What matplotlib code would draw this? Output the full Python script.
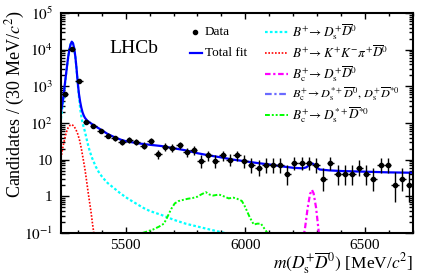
import matplotlib
matplotlib.use("Agg")
import matplotlib.pyplot as plt
import numpy as np
from matplotlib.lines import Line2D
from matplotlib.ticker import MultipleLocator, LogLocator, FuncFormatter, NullFormatter

plt.rcParams["font.family"] = ["Liberation Serif", "DejaVu Serif"]
plt.rcParams["mathtext.fontset"] = "stix"

W, H = 436, 278

# --- data: 30 MeV bins from 5230 to 6700 ---
bin_width = 30
mass = np.arange(5245, 6700, bin_width)
counts = np.array([
    600, 10400, 1400, 106, 83, 60, 45, 38, 31, 35,
    31, 24, 32, 14, 22, 21, 25, 16, 18, 9,
    13, 9, 13, 10, 13, 9, 7, 6, 7, 7,
    7, 4, 8, 8, 8, 7, 3, 8, 4, 4,
    4, 6, 4, 3, 7, 7, 2, 3, 2,
], dtype=float)

# total fit
fit_m = [5230, 5235, 5240, 5245, 5250, 5255, 5260, 5265, 5270, 5275,
         5280, 5285, 5290, 5295, 5300, 5305, 5310, 5315, 5320, 5325,
         5330, 5340, 5355, 5370, 5400, 5425, 5450, 5480, 5500, 5550,
         5600, 5650, 5700, 5750, 5800, 5850, 5900, 5950, 6000, 6050,
         6100, 6150, 6200, 6240, 6255, 6265, 6275, 6282, 6290, 6300,
         6310, 6350, 6400, 6500, 6600, 6700]
fit_v = [200, 310, 520, 1000, 1900, 3500, 6300, 10000, 14000, 16500,
         15000, 11000, 6400, 3000, 1250, 620, 380, 260, 195, 160,
         138, 115, 98, 84, 64, 50, 42, 35, 32, 28,
         25.5, 23.5, 20.5, 18, 15, 13, 11.5, 10, 9, 8.1,
         7.4, 6.6, 6.0, 5.8, 6.2, 7.0, 7.8, 7.8, 7.0, 6.0,
         5.4, 5.1, 4.9, 4.7, 4.5, 4.4]

# B+ -> Ds D0
sig_m = [5230, 5235, 5240, 5245, 5250, 5255, 5260, 5265, 5270, 5275,
         5280, 5285, 5290, 5295, 5300, 5305, 5310, 5315, 5320, 5330,
         5340, 5350, 5360, 5375, 5390, 5405, 5425, 5450, 5475, 5500,
         5525, 5550, 5575, 5600, 5650, 5700, 5750, 5800, 5850, 5900, 5930]
sig_v = [130, 230, 430, 900, 1800, 3400, 6100, 9800, 13800, 16300,
         14800, 10800, 6300, 2900, 1150, 520, 250, 150, 100, 58,
         30, 17, 11, 6.5, 4.3, 3.2, 2.3, 1.7, 1.25, 0.95,
         0.75, 0.6, 0.48, 0.40, 0.31, 0.23, 0.18, 0.15, 0.125, 0.105, 0.095]

# B+ -> K+ K- pi+ D0
kkp_m = [5230, 5238, 5245, 5252, 5260, 5268, 5276, 5284, 5292, 5300,
         5308, 5315, 5322, 5330, 5337, 5344, 5350, 5356, 5362, 5368]
kkp_v = [11, 22, 36, 55, 75, 87, 90, 82, 67, 50,
         33, 20, 11, 5.5, 2.6, 1.2, 0.65, 0.35, 0.17, 0.09]

# Bc+ -> Ds D0
bc_m = [6240, 6250, 6260, 6270, 6278, 6285, 6295, 6305, 6315]
bc_v = [0.06, 0.15, 0.48, 1.15, 1.5, 1.2, 0.5, 0.13, 0.03]

# Bc+ -> Ds* D*0
bcss_m = [5570, 5590, 5615, 5640, 5660, 5675, 5690, 5705, 5720, 5740,
          5760, 5780, 5800, 5815, 5835, 5850, 5865, 5890, 5910, 5930,
          5950, 5965, 5985, 5995, 6005, 6018, 6035, 6050, 6065, 6080, 6092]
bcss_v = [0.1, 0.11, 0.125, 0.15, 0.18, 0.28, 0.45, 0.64, 0.74, 0.8,
          0.86, 0.9, 0.98, 1.12, 1.3, 1.12, 1.05, 1.12, 1.0, 0.88,
          0.92, 0.86, 0.75, 0.58, 0.42, 0.27, 0.17, 0.18, 0.18, 0.13, 0.1]

# Poisson (Garwood-like) intervals
n = counts
lo = n * (1 - 1 / (9 * n) - 1 / (3 * np.sqrt(n))) ** 3
hi = (n + 1) * (1 - 1 / (9 * (n + 1)) + 1 / (3 * np.sqrt(n + 1))) ** 3

fig = plt.figure(figsize=(W / 100, H / 100), dpi=100)
ax = fig.add_axes([61 / W, 1 - 233 / H, 352 / W, 220 / H])

ax.plot(kkp_m, kkp_v, color="#ff0000", lw=1.2, ls=(0, (1, 1)))
ax.plot(sig_m, sig_v, color="#00ffff", lw=1.6, ls=(0, (1.2, 1)))
ax.plot(bcss_m, bcss_v, color="#00ff00", lw=1.4, ls=(0, (2.5, 1, 1, 1, 1, 1)))
ax.plot(bc_m, bc_v, color="#ff00ff", lw=1.6, ls=(0, (2.5, 1.2, 1, 1.2)))
ax.plot(fit_m, fit_v, color="#0000ff", lw=1.6)
ax.errorbar(mass, counts, xerr=bin_width / 2, yerr=[n - lo, hi - n],
            fmt="o", color="k", ms=3, elinewidth=1.0, capsize=0, zorder=5)

ax.set_yscale("log")
ax.set_xlim(5230, 6700)
ax.set_ylim(0.1, 1e5)

ax.xaxis.set_major_locator(MultipleLocator(500))
ax.xaxis.set_minor_locator(MultipleLocator(100))
ax.yaxis.set_major_locator(LogLocator(base=10, numticks=10))
ax.yaxis.set_minor_locator(LogLocator(base=10, subs=np.arange(2, 10), numticks=20))
ax.yaxis.set_minor_formatter(NullFormatter())


def yfmt(v, pos):
    e = int(round(np.log10(v)))
    if e == 0:
        return "1"
    if e == 1:
        return "10"
    return r"$10^{%d}$" % e


ax.yaxis.set_major_formatter(FuncFormatter(yfmt))
ax.tick_params(axis="both", which="both", direction="in", top=True, right=True,
               labelsize=11, width=1.0)
ax.tick_params(axis="x", which="major", length=4.3, pad=4)
ax.tick_params(axis="x", which="minor", length=2.2)
ax.tick_params(axis="y", which="major", length=5.8, pad=6)
ax.tick_params(axis="y", which="minor", length=2.9)
for s in ax.spines.values():
    s.set_linewidth(1.5)

fig.text(15 / W, 1 - 10 / H, r"Candidates / (30 MeV/$c^2$)", rotation=90,
         ha="center", va="top", fontsize=13)
fig.text(413 / W, 1 - 263 / H, r"$m(D_{\mathrm{s}}^{+}\overline{D}^{0})$ [MeV/$c^2$]",
         ha="right", va="center", fontsize=12.5)
fig.text(109 / W, 1 - 48.5 / H, "LHCb", ha="left", va="center", fontsize=14)

# legend, drawn by hand
leg_fs = 9.5
fig.add_artist(Line2D([195 / W], [1 - 32 / H], marker="o", ms=3, color="k",
                      transform=fig.transFigure))
fig.text(205 / W, 1 - 32 / H, "Data", ha="left", va="center", fontsize=leg_fs)
fig.add_artist(Line2D([190 / W, 202 / W], [1 - 53 / H] * 2, color="#0000ff", lw=1.6,
                      transform=fig.transFigure))
fig.text(205 / W, 1 - 53 / H, "Total fit", ha="left", va="center", fontsize=leg_fs)

entries = [
    (r"$B^{+}\!\to D_{\mathrm{s}}^{+}\overline{D}^{0}$", "#00ffff", (0, (1.2, 1)), 1.6, leg_fs),
    (r"$B^{+}\!\to K^{+}K^{-}\pi^{+}\overline{D}^{0}$", "#ff0000", (0, (1, 1)), 1.2, leg_fs),
    (r"$B_{\mathrm{c}}^{+}\!\to D_{\mathrm{s}}^{+}\overline{D}^{0}$", "#ff00ff", (0, (2.5, 1.2, 1, 1.2)), 1.6, leg_fs),
    (r"$B_{\mathrm{c}}^{+}\!\to D_{\mathrm{s}}^{*+}\overline{D}^{0},\,D_{\mathrm{s}}^{+}\overline{D}^{*0}$",
     "#6a6aff", (0, (3, 1.2, 1, 1.2)), 1.6, 8.8),
    (r"$B_{\mathrm{c}}^{+}\!\to D_{\mathrm{s}}^{*+}\overline{D}^{*0}$", "#00ff00", (0, (2.5, 1, 1, 1, 1, 1)), 1.4, leg_fs),
]
for i, (lab, col, ls, lw, fs) in enumerate(entries):
    y = 1 - (32.5 + 20.6 * i) / H
    fig.add_artist(Line2D([265 / W, 288 / W], [y, y], color=col, lw=lw, ls=ls,
                          transform=fig.transFigure))
    fig.text(292 / W, y, lab, ha="left", va="center", fontsize=fs)

fig.savefig("out.png", dpi=100)
